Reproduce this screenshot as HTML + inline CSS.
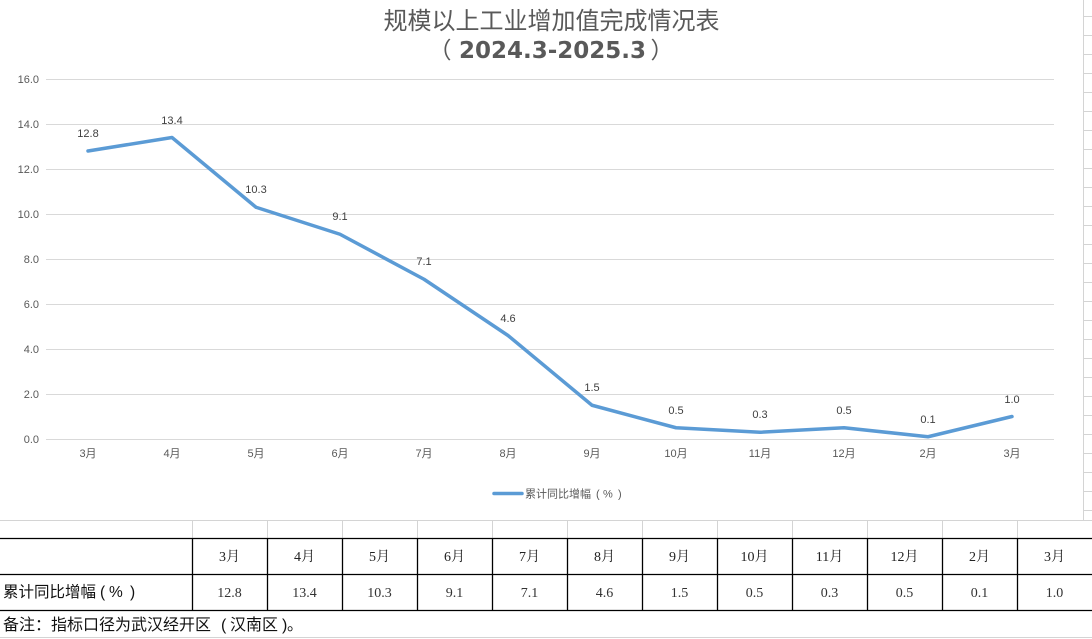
<!DOCTYPE html>
<html><head><meta charset="utf-8">
<style>
html,body{margin:0;padding:0;background:#fff;}
body{width:1092px;height:639px;overflow:hidden;position:relative;}
svg{position:absolute;left:0;top:0;}
</style></head>
<body>
<svg width="1092" height="639" viewBox="0 0 1092 639" xmlns="http://www.w3.org/2000/svg">
<!-- right spreadsheet grid -->
<g stroke="#d4d4d4" stroke-width="1">
<line x1="1083.5" y1="0" x2="1083.5" y2="520"/>
<line x1="1083" y1="16.5" x2="1092" y2="16.5"/><line x1="1083" y1="35.5" x2="1092" y2="35.5"/>
<line x1="1083" y1="54.5" x2="1092" y2="54.5"/><line x1="1083" y1="73.5" x2="1092" y2="73.5"/>
<line x1="1083" y1="92.5" x2="1092" y2="92.5"/><line x1="1083" y1="111.5" x2="1092" y2="111.5"/>
<line x1="1083" y1="130.5" x2="1092" y2="130.5"/><line x1="1083" y1="149.5" x2="1092" y2="149.5"/>
<line x1="1083" y1="168.5" x2="1092" y2="168.5"/><line x1="1083" y1="187.5" x2="1092" y2="187.5"/>
<line x1="1083" y1="206.5" x2="1092" y2="206.5"/><line x1="1083" y1="225.5" x2="1092" y2="225.5"/>
<line x1="1083" y1="244.5" x2="1092" y2="244.5"/><line x1="1083" y1="263.5" x2="1092" y2="263.5"/>
<line x1="1083" y1="282.5" x2="1092" y2="282.5"/><line x1="1083" y1="301.5" x2="1092" y2="301.5"/>
<line x1="1083" y1="320.5" x2="1092" y2="320.5"/><line x1="1083" y1="339.5" x2="1092" y2="339.5"/>
<line x1="1083" y1="358.5" x2="1092" y2="358.5"/><line x1="1083" y1="377.5" x2="1092" y2="377.5"/>
<line x1="1083" y1="396.5" x2="1092" y2="396.5"/><line x1="1083" y1="415.5" x2="1092" y2="415.5"/>
<line x1="1083" y1="434.5" x2="1092" y2="434.5"/><line x1="1083" y1="453.5" x2="1092" y2="453.5"/>
<line x1="1083" y1="472.5" x2="1092" y2="472.5"/><line x1="1083" y1="491.5" x2="1092" y2="491.5"/>
<line x1="1083" y1="510.5" x2="1092" y2="510.5"/>
</g>

<!-- title -->
<text x="551.5" y="29" text-anchor="middle" font-family="'Liberation Sans','Noto Sans CJK SC',sans-serif" font-size="24" fill="#595959">规模以上工业增加值完成情况表</text>
<g font-size="23" fill="#595959">
<text x="440" y="58" text-anchor="middle" font-family="'Noto Sans CJK SC',sans-serif">（</text>
<text x="552.5" y="58" text-anchor="middle" font-family="'DejaVu Sans',sans-serif" font-weight="bold">2024.3-2025.3</text>
<text x="662" y="58" text-anchor="middle" font-family="'Noto Sans CJK SC',sans-serif">）</text>
</g>

<!-- gridlines -->
<g stroke="#d9d9d9" stroke-width="1">
<line x1="46" y1="79.5" x2="1054" y2="79.5"/>
<line x1="46" y1="124.5" x2="1054" y2="124.5"/>
<line x1="46" y1="169.5" x2="1054" y2="169.5"/>
<line x1="46" y1="214.5" x2="1054" y2="214.5"/>
<line x1="46" y1="259.5" x2="1054" y2="259.5"/>
<line x1="46" y1="304.5" x2="1054" y2="304.5"/>
<line x1="46" y1="349.5" x2="1054" y2="349.5"/>
<line x1="46" y1="394.5" x2="1054" y2="394.5"/>
<line x1="46" y1="439.5" x2="1054" y2="439.5"/>
</g>

<!-- y labels -->
<g font-family="'Liberation Sans','Noto Sans CJK SC',sans-serif" font-size="11" fill="#595959" text-anchor="end">
<text x="39" y="83">16.0</text>
<text x="39" y="128">14.0</text>
<text x="39" y="173">12.0</text>
<text x="39" y="218">10.0</text>
<text x="39" y="263">8.0</text>
<text x="39" y="308">6.0</text>
<text x="39" y="353">4.0</text>
<text x="39" y="398">2.0</text>
<text x="39" y="443">0.0</text>
</g>

<!-- x labels -->
<g font-family="'Liberation Sans','Noto Sans CJK SC',sans-serif" font-size="11" fill="#595959" text-anchor="middle">
<text x="88" y="457">3月</text>
<text x="172" y="457">4月</text>
<text x="256" y="457">5月</text>
<text x="340" y="457">6月</text>
<text x="424" y="457">7月</text>
<text x="508" y="457">8月</text>
<text x="592" y="457">9月</text>
<text x="676" y="457">10月</text>
<text x="760" y="457">11月</text>
<text x="844" y="457">12月</text>
<text x="928" y="457">2月</text>
<text x="1012" y="457">3月</text>
</g>

<!-- series line -->
<polyline fill="none" stroke="#5b9bd5" stroke-width="3.5" stroke-linejoin="round" stroke-linecap="round"
points="88,151 172,137.5 256,207.25 340,234.25 424,279.25 508,335.5 592,405.25 676,427.75 760,432.25 844,427.75 928,436.75 1012,416.5"/>

<!-- data labels -->
<g font-family="'Liberation Sans','Noto Sans CJK SC',sans-serif" font-size="11" fill="#404040" text-anchor="middle">
<text x="88" y="137">12.8</text>
<text x="172" y="124">13.4</text>
<text x="256" y="193">10.3</text>
<text x="340" y="220">9.1</text>
<text x="424" y="265">7.1</text>
<text x="508" y="322">4.6</text>
<text x="592" y="391">1.5</text>
<text x="676" y="414">0.5</text>
<text x="760" y="418">0.3</text>
<text x="844" y="414">0.5</text>
<text x="928" y="423">0.1</text>
<text x="1012" y="403">1.0</text>
</g>

<!-- legend -->
<line x1="494" y1="493.5" x2="522" y2="493.5" stroke="#5b9bd5" stroke-width="3.5" stroke-linecap="round"/>
<text x="525" y="497.5" font-family="'Liberation Sans','Noto Sans CJK SC',sans-serif" font-size="11" fill="#595959">累计同比增幅<tspan x="596">(</tspan><tspan x="603">%</tspan><tspan x="618">)</tspan></text>

<!-- spreadsheet light grid above table -->
<g stroke="#d4d4d4" stroke-width="1">
<line x1="0" y1="520.5" x2="1092" y2="520.5"/>
<line x1="192.5" y1="520" x2="192.5" y2="538"/>
<line x1="267.5" y1="520" x2="267.5" y2="538"/>
<line x1="342.5" y1="520" x2="342.5" y2="538"/>
<line x1="417.5" y1="520" x2="417.5" y2="538"/>
<line x1="492.5" y1="520" x2="492.5" y2="538"/>
<line x1="567.5" y1="520" x2="567.5" y2="538"/>
<line x1="642.5" y1="520" x2="642.5" y2="538"/>
<line x1="717.5" y1="520" x2="717.5" y2="538"/>
<line x1="792.5" y1="520" x2="792.5" y2="538"/>
<line x1="867.5" y1="520" x2="867.5" y2="538"/>
<line x1="942.5" y1="520" x2="942.5" y2="538"/>
<line x1="1017.5" y1="520" x2="1017.5" y2="538"/>
<line x1="0" y1="637.5" x2="1092" y2="637.5"/>
</g>

<!-- table -->
<g stroke="#000" stroke-width="1.3">
<line x1="0" y1="538.5" x2="1092" y2="538.5"/>
<line x1="0" y1="574.5" x2="1092" y2="574.5"/>
<line x1="0" y1="610.5" x2="1092" y2="610.5"/>
<line x1="192.5" y1="538" x2="192.5" y2="611"/>
<line x1="267.5" y1="538" x2="267.5" y2="611"/>
<line x1="342.5" y1="538" x2="342.5" y2="611"/>
<line x1="417.5" y1="538" x2="417.5" y2="611"/>
<line x1="492.5" y1="538" x2="492.5" y2="611"/>
<line x1="567.5" y1="538" x2="567.5" y2="611"/>
<line x1="642.5" y1="538" x2="642.5" y2="611"/>
<line x1="717.5" y1="538" x2="717.5" y2="611"/>
<line x1="792.5" y1="538" x2="792.5" y2="611"/>
<line x1="867.5" y1="538" x2="867.5" y2="611"/>
<line x1="942.5" y1="538" x2="942.5" y2="611"/>
<line x1="1017.5" y1="538" x2="1017.5" y2="611"/>
</g>

<g font-family="'Liberation Serif','Noto Serif CJK SC',serif" font-size="14" fill="#222" text-anchor="middle">
<text x="229.5" y="561">3月</text>
<text x="304.5" y="561">4月</text>
<text x="379.5" y="561">5月</text>
<text x="454.5" y="561">6月</text>
<text x="529.5" y="561">7月</text>
<text x="604.5" y="561">8月</text>
<text x="679.5" y="561">9月</text>
<text x="754.5" y="561">10月</text>
<text x="829.5" y="561">11月</text>
<text x="904.5" y="561">12月</text>
<text x="979.5" y="561">2月</text>
<text x="1054.5" y="561">3月</text>
</g>
<g font-family="'Liberation Serif','Noto Serif CJK SC',serif" font-size="14" fill="#333" text-anchor="middle">
<text x="229.5" y="597">12.8</text>
<text x="304.5" y="597">13.4</text>
<text x="379.5" y="597">10.3</text>
<text x="454.5" y="597">9.1</text>
<text x="529.5" y="597">7.1</text>
<text x="604.5" y="597">4.6</text>
<text x="679.5" y="597">1.5</text>
<text x="754.5" y="597">0.5</text>
<text x="829.5" y="597">0.3</text>
<text x="904.5" y="597">0.5</text>
<text x="979.5" y="597">0.1</text>
<text x="1054.5" y="597">1.0</text>
</g>
<text x="3" y="597" font-family="'Liberation Sans','Noto Sans CJK SC',sans-serif" font-size="15.5" fill="#111">累计同比增幅<tspan x="100">(</tspan><tspan x="109">%</tspan><tspan x="130">)</tspan></text>
<text x="3" y="630" font-family="'Liberation Sans','Noto Sans CJK SC',sans-serif" font-size="16" fill="#111">备注：指标口径为武汉经开区<tspan x="221">(</tspan><tspan x="230">汉南区</tspan><tspan x="282">)</tspan><tspan x="287">。</tspan></text>
</svg>
</body></html>
